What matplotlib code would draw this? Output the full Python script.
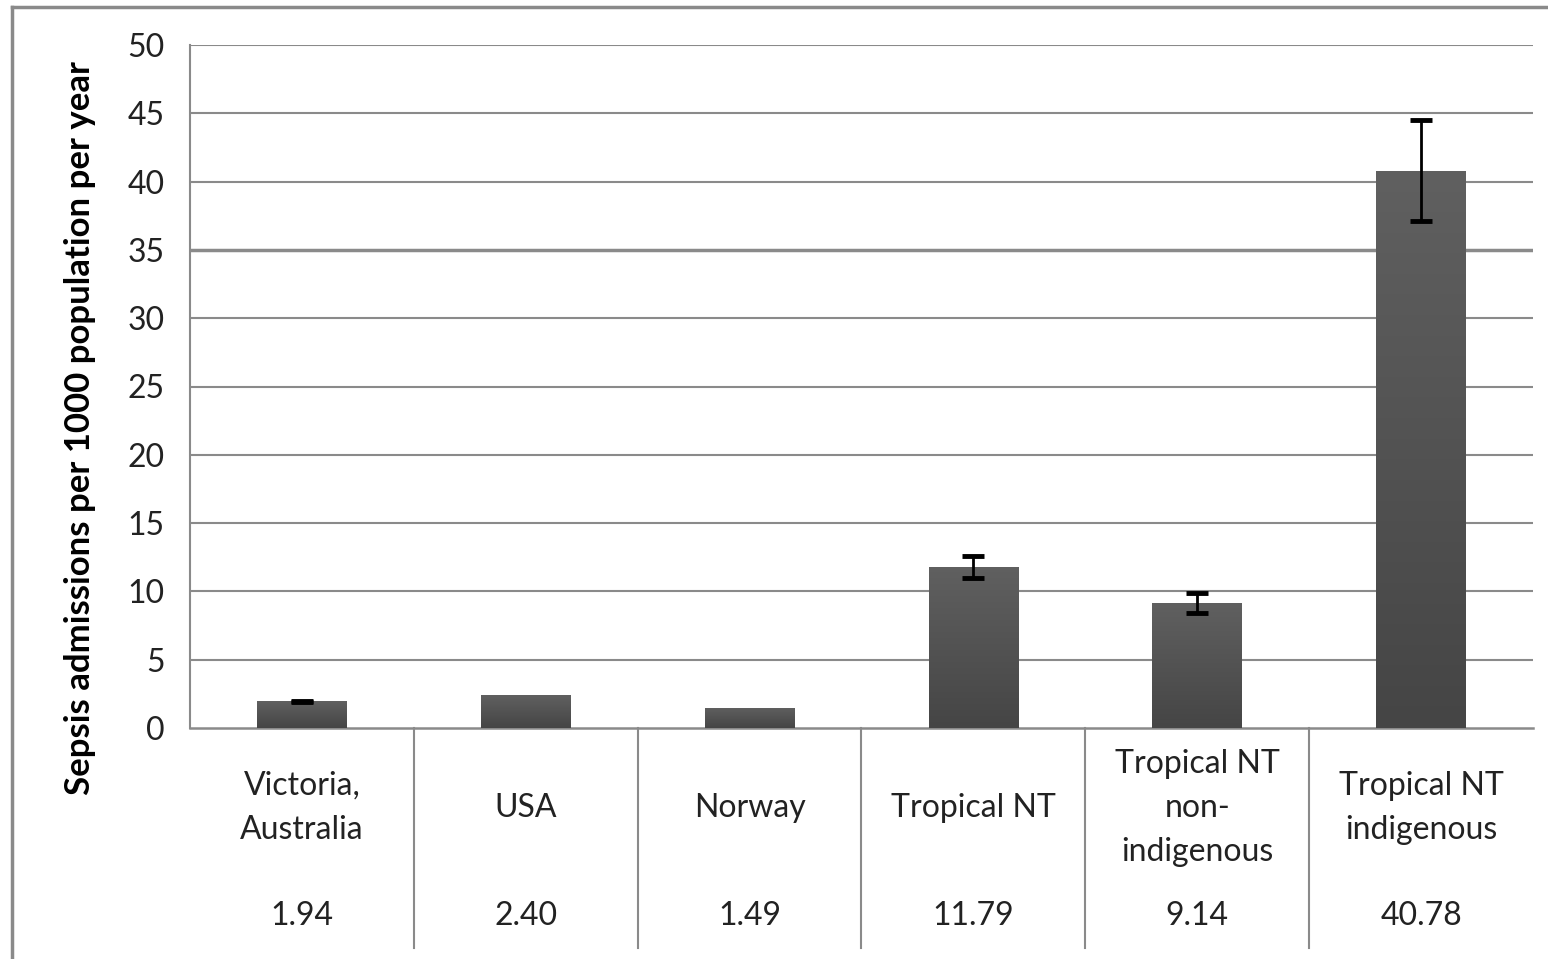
import numpy as np
import matplotlib.pyplot as plt
from matplotlib.lines import Line2D
from matplotlib.colors import LinearSegmentedColormap

categories = ['Victoria,\nAustralia', 'USA', 'Norway', 'Tropical NT',
              'Tropical NT\nnon-\nindigenous', 'Tropical NT\nindigenous']
rates = [1.94, 2.40, 1.49, 11.79, 9.14, 40.78]
errors = [0.06, 0.0, 0.0, 0.8, 0.75, 3.7]
value_labels = ['1.94', '2.40', '1.49', '11.79', '9.14', '40.78']
y_ticks = [0, 5, 10, 15, 20, 25, 30, 35, 40, 45, 50]

plt.rcParams['font.family'] = ['Lato', 'DejaVu Sans']
fig = plt.figure(figsize=(15.48, 9.59), dpi=100)
ax = fig.add_axes([190 / 1548, 1 - 728 / 959, (1533 - 190) / 1548, 683 / 959])

x = np.arange(len(rates))
bars = ax.bar(x, rates, width=0.4, color='#555555', zorder=3)

# gradient fill on bars
grad = np.linspace(0, 1, 256).reshape(-1, 1)
cm = LinearSegmentedColormap.from_list('g', ['#454545', '#606060'])
for b in bars:
    x0, y0 = b.get_x(), b.get_y()
    w, h = b.get_width(), b.get_height()
    im = ax.imshow(grad, extent=[x0, x0 + w, y0, y0 + h], origin='lower',
                   cmap=cm, aspect='auto', zorder=3)
    im.set_clip_path(b)

# error bars only where there is one
has_err = [i for i in range(len(rates)) if errors[i] > 0]
ax.errorbar([x[i] for i in has_err], [rates[i] for i in has_err],
            yerr=[errors[i] for i in has_err], fmt='none', ecolor='black',
            elinewidth=2, capsize=8, capthick=3.5, zorder=4)

ax.set_xlim(-0.5, len(rates) - 0.5)
ax.set_ylim(0, 50)
ax.set_yticks(y_ticks)
ax.set_yticklabels([str(t) for t in y_ticks], fontsize=23, color='#222222')
ax.tick_params(axis='y', length=0, pad=18)
ax.set_xticks([])
for t in y_ticks[1:]:
    ax.axhline(t, color='#8a8a8a', lw=1.5 if t != 35 else 2.5, zorder=1)
for s in ['top', 'right']:
    ax.spines[s].set_visible(False)
ax.spines['left'].set_color('#8a8a8a')
ax.spines['left'].set_linewidth(1.5)
ax.spines['bottom'].set_color('#8a8a8a')
ax.spines['bottom'].set_linewidth(1.8)

# y axis title, sits a bit lower than the axis middle
ax.text(-0.082, 0.439, 'Sepsis admissions per 1000 population per year',
        transform=ax.transAxes, rotation=90, ha='center', va='center',
        fontsize=25, fontweight='bold')

# data table under the chart
trans = ax.get_xaxis_transform()
for i in range(len(rates)):
    ax.text(i, -0.117, categories[i], transform=trans, ha='center', va='center',
            fontsize=23, color='#222222', linespacing=1.6)
    ax.text(i, -0.275, value_labels[i], transform=trans, ha='center', va='center',
            fontsize=23, color='#222222')
for i in range(len(rates) - 1):
    ax.add_line(Line2D([i + 0.5, i + 0.5], [0, -0.322], transform=trans,
                       color='#8a8a8a', lw=1.5, clip_on=False))

# outer chart border
fig.add_artist(Line2D([12 / 1548, 12 / 1548], [0, 1 - 7 / 959], transform=fig.transFigure,
                      color='#8a8a8a', lw=2.5))
fig.add_artist(Line2D([12 / 1548, 1], [1 - 7 / 959, 1 - 7 / 959], transform=fig.transFigure,
                      color='#8a8a8a', lw=2.5))

fig.savefig('out.png', dpi=100)
